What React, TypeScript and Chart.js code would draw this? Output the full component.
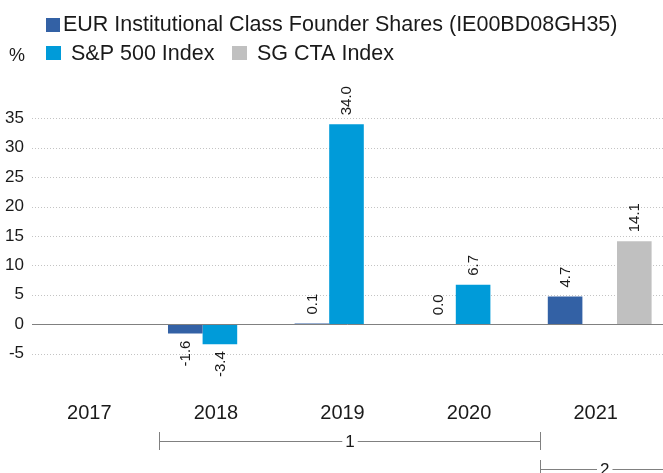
import React, { useEffect, useRef } from "react";
import { Chart, registerables } from "chart.js";

Chart.register(...registerables);

const years = ["2017", "2018", "2019", "2020", "2021"];
const eurValues: (number | null)[] = [null, -1.6, 0.1, 0.0, 4.7];
const spValues: (number | null)[] = [null, -3.4, 34.0, 6.7, null];
const ctaValues: (number | null)[] = [null, null, null, null, 14.1];
const seriesNames = [
  "EUR Institutional Class Founder Shares (IE00BD08GH35)",
  "S&P 500 Index",
  "SG CTA Index",
];
const seriesColors = ["#3361A5", "#009BD9", "#C0C0C0"];
const gridValues = [-5, 5, 10, 15, 20, 25, 30, 35];
const periodLabels = ["1", "2"];

const FONT = "'Liberation Sans', Arial, sans-serif";
const TEXT = "#1a1a1a";
const LINE = "#808080";

const decorPlugin = {
  id: "decor",
  beforeDatasetsDraw(chart: any) {
    const { ctx, chartArea, scales } = chart;
    const y = scales.y;
    ctx.save();
    ctx.strokeStyle = "#c4c4c4";
    ctx.lineWidth = 1;
    ctx.setLineDash([1, 2]);
    for (const v of gridValues) {
      const py = Math.round(y.getPixelForValue(v)) + 0.5;
      ctx.beginPath();
      ctx.moveTo(chartArea.left + 2, py);
      ctx.lineTo(chart.width, py);
      ctx.stroke();
    }
    ctx.restore();
  },
  afterDatasetsDraw(chart: any) {
    const { ctx, chartArea, scales } = chart;
    const y = scales.y;
    const x = scales.x;
    ctx.save();
    // zero line
    const zy = Math.round(y.getPixelForValue(0)) + 0.5;
    ctx.strokeStyle = LINE;
    ctx.lineWidth = 1;
    ctx.beginPath();
    ctx.moveTo(chartArea.left + 2, zy);
    ctx.lineTo(chart.width, zy);
    ctx.stroke();

    // value labels
    ctx.fillStyle = TEXT;
    ctx.font = `15px ${FONT}`;
    ctx.textBaseline = "middle";
    chart.data.datasets.forEach((ds: any, i: number) => {
      const meta = chart.getDatasetMeta(i);
      meta.data.forEach((el: any, j: number) => {
        const v = ds.data[j];
        if (v === null || v === undefined) return;
        const txt = v.toFixed(1);
        ctx.save();
        if (v >= 0) {
          ctx.translate(el.x + 0.5, Math.min(el.y, el.base) - 9);
          ctx.rotate(-Math.PI / 2);
          ctx.textAlign = "left";
        } else {
          ctx.translate(el.x + 0.5, Math.max(el.y, el.base) + 7);
          ctx.rotate(-Math.PI / 2);
          ctx.textAlign = "right";
        }
        ctx.fillText(txt, 0, 0);
        ctx.restore();
      });
    });

    // period brackets
    ctx.strokeStyle = LINE;
    ctx.lineWidth = 1;
    ctx.font = `17px ${FONT}`;
    ctx.textAlign = "center";
    ctx.textBaseline = "middle";
    const x1 = Math.round(x.getPixelForValue(0.52)) + 0.5;
    const x2 = Math.round(x.getPixelForValue(3.53)) + 0.5;
    const x3 = chart.width;
    const drawBracket = (a: number, b: number, ly: number, t0: number, t1: number, label: string, leftTick: boolean, rightTick: boolean) => {
      const mid = (a + b) / 2;
      const tw = ctx.measureText(label).width / 2 + 3;
      ctx.beginPath();
      ctx.moveTo(a, ly);
      ctx.lineTo(mid - tw, ly);
      ctx.moveTo(mid + tw, ly);
      ctx.lineTo(b, ly);
      if (leftTick) {
        ctx.moveTo(a, t0);
        ctx.lineTo(a, t1);
      }
      if (rightTick) {
        ctx.moveTo(b, t0);
        ctx.lineTo(b, t1);
      }
      ctx.stroke();
      ctx.fillText(label, mid, ly + 1);
    };
    drawBracket(x1, x2, 441.5, 432, 450, periodLabels[0], true, true);
    drawBracket(x2, x3 + 6, 469.5, 460, 473, periodLabels[1], true, false);
    ctx.restore();
  },
  afterDraw(chart: any) {
    const { ctx } = chart;
    ctx.save();
    ctx.fillStyle = TEXT;
    ctx.textAlign = "left";
    ctx.textBaseline = "alphabetic";
    ctx.font = `21.5px ${FONT}`;
    // row 1
    ctx.fillStyle = seriesColors[0];
    ctx.fillRect(46, 18, 14, 14);
    ctx.fillStyle = TEXT;
    ctx.fillText(seriesNames[0], 63, 31);
    // row 2
    ctx.fillStyle = seriesColors[1];
    ctx.fillRect(46, 46, 15, 14);
    ctx.fillStyle = TEXT;
    ctx.fillText(seriesNames[1], 71, 60);
    ctx.fillStyle = seriesColors[2];
    ctx.fillRect(232, 46, 15, 14);
    ctx.fillStyle = TEXT;
    ctx.fillText(seriesNames[2], 257, 60);
    ctx.font = `18px ${FONT}`;
    ctx.fillText("%", 9, 61);
    ctx.restore();
  },
};

export default function App() {
  const ref = useRef<HTMLCanvasElement | null>(null);
  useEffect(() => {
    document.body.style.margin = "0";
    if (!ref.current) return;
    const chart = new Chart(ref.current, {
      type: "bar",
      data: {
        labels: years,
        datasets: [
          { label: seriesNames[0], data: eurValues, backgroundColor: seriesColors[0] },
          { label: seriesNames[1], data: spValues, backgroundColor: seriesColors[1] },
          { label: seriesNames[2], data: ctaValues, backgroundColor: seriesColors[2] },
        ],
      },
      options: {
        responsive: false,
        animation: false,
        events: [],
        datasets: {
          bar: { categoryPercentage: 0.82, barPercentage: 1, borderWidth: 0 },
        },
        layout: { padding: { top: 89, right: 0, left: 0, bottom: 0 } },
        plugins: {
          legend: { display: false },
          tooltip: { enabled: false },
          title: { display: false },
        },
        scales: {
          x: {
            grid: { display: false, drawTicks: false },
            border: { display: false },
            ticks: {
              color: TEXT,
              padding: 18,
              font: { family: FONT, size: 20 },
              maxRotation: 0,
              labelOffset: -4,
            },
            afterFit(scale: any) {
              scale.height = 90;
            },
          },
          y: {
            min: -10,
            max: 40,
            grid: { display: false, drawTicks: false },
            border: { display: false },
            ticks: {
              stepSize: 5,
              color: TEXT,
              padding: 6,
              font: { family: FONT, size: 17 },
              callback: (v: any) => (v === 40 || v === -10 ? "" : String(v)),
            },
            afterFit(scale: any) {
              scale.width = 30;
            },
          },
        },
      },
      plugins: [decorPlugin],
    });
    return () => chart.destroy();
  }, []);
  return (
    <div style={{ width: 663, height: 473, background: "#fff" }}>
      <canvas ref={ref} width={663} height={473} />
    </div>
  );
}
